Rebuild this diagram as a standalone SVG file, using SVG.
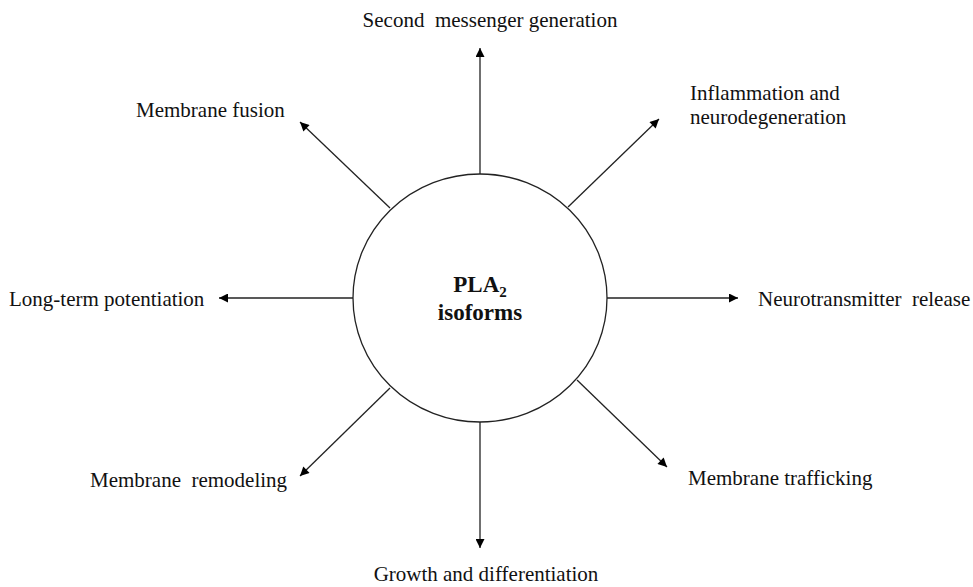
<svg xmlns="http://www.w3.org/2000/svg" width="973" height="587" viewBox="0 0 973 587">
<defs>
<marker id="ah" viewBox="0 0 10 10" refX="10" refY="5" markerWidth="10" markerHeight="9" markerUnits="userSpaceOnUse" orient="auto">
<path d="M0,0 L10,5 L0,10 Z" fill="#000"/>
</marker>
</defs>
<style>
text{font-family:"Liberation Serif","Times New Roman",serif;font-size:21px;fill:#111}
.c{text-anchor:middle}
.b{font-weight:bold;font-size:23px}
line{stroke:#222;stroke-width:1.3}
</style>
<rect width="973" height="587" fill="#fff"/>
<g id="connectors">
<line x1="480" y1="174" x2="480" y2="48" marker-end="url(#ah)"/>
<line x1="480" y1="422" x2="480" y2="548" marker-end="url(#ah)"/>
<line x1="353" y1="298" x2="219" y2="298" marker-end="url(#ah)"/>
<line x1="607" y1="298" x2="738" y2="298" marker-end="url(#ah)"/>
<line x1="390" y1="208" x2="300" y2="122" marker-end="url(#ah)"/>
<line x1="568" y1="207" x2="659" y2="119" marker-end="url(#ah)"/>
<line x1="390" y1="388" x2="300" y2="476" marker-end="url(#ah)"/>
<line x1="577" y1="380" x2="667" y2="467" marker-end="url(#ah)"/>
</g>
<g id="center">
<ellipse cx="480" cy="298" rx="127" ry="124" fill="#fff" stroke="#222" stroke-width="1.3"/>
<text class="c b" x="480" y="292">PLA<tspan font-size="15" dy="5">2</tspan></text>
<text class="c b" x="480" y="320">isoforms</text>
</g>
<g id="n-top"><text class="c" x="490" y="27" xml:space="preserve">Second  messenger generation</text></g>
<g id="n-ul"><text x="136" y="117">Membrane fusion</text></g>
<g id="n-ur"><text x="690" y="100">Inflammation and</text><text x="690" y="124">neurodegeneration</text></g>
<g id="n-left"><text x="9" y="306">Long-term potentiation</text></g>
<g id="n-right"><text x="758" y="306" xml:space="preserve">Neurotransmitter  release</text></g>
<g id="n-ll"><text x="90" y="487" xml:space="preserve">Membrane  remodeling</text></g>
<g id="n-lr"><text x="688" y="485">Membrane trafficking</text></g>
<g id="n-bottom"><text class="c" x="486" y="581">Growth and differentiation</text></g>
</svg>
